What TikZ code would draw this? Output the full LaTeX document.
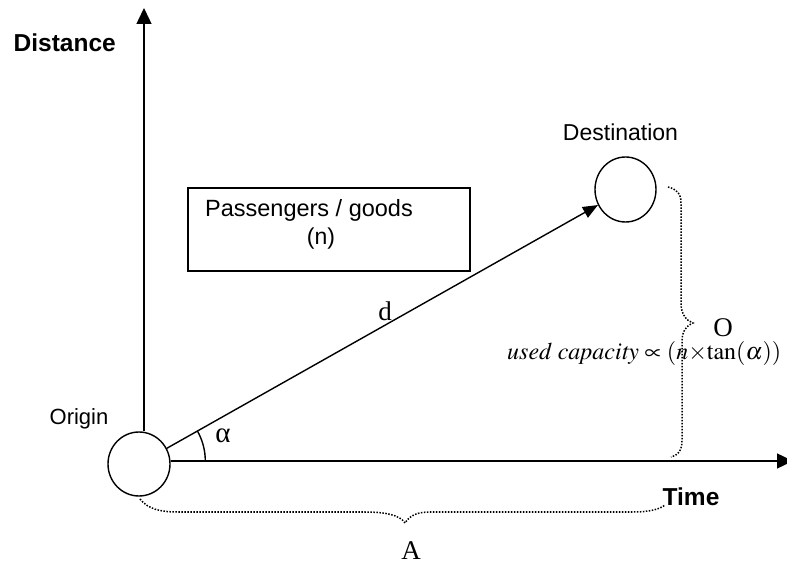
\documentclass[tikz,border=0pt]{standalone}
\usepackage{mathptmx}
\usepackage{fontspec}
\setmainfont{Liberation Serif}
\setsansfont{Liberation Sans}
\usetikzlibrary{shapes.geometric,arrows.meta}
\begin{document}
\begin{tikzpicture}[x=1pt,y=1pt,
  line width=1.4pt,
  circ/.style={ellipse,draw,inner sep=0pt,line width=1.4pt},
  lab/.style={font=\sffamily\fontsize{22}{26}\selectfont,inner sep=0pt},
  blab/.style={font=\sffamily\bfseries\fontsize{24.5}{28}\selectfont,inner sep=0pt},
  ser/.style={font=\fontsize{24}{28}\selectfont,inner sep=0pt},
  bigser/.style={font=\fontsize{27}{30}\selectfont,inner sep=0pt},
  bracestyle/.style={line width=1.5pt,dash pattern=on 1.5pt off 1.5pt},
  axis/.style={-{Triangle[length=16pt,width=15pt]}}]
\useasboundingbox (0,0) rectangle (787,565);
% nodes
\node[circ,minimum width=62pt,minimum height=64pt] (origin) at (139,101) {};
\node[circ,minimum width=61pt,minimum height=65pt] (dest) at (625.5,375.5) {};
\coordinate (ytip) at (144,557);
\coordinate (xtip) at (793,104);
\coordinate (vert) at (144.3,104);
% axes
\draw[axis] (origin.north -| ytip) -- (ytip);
\draw[axis] (origin.east |- xtip) -- (xtip);
% d arrow
\draw[-{Triangle[length=15pt,width=12pt]}] (origin) -- (dest);
% angle arc
\draw ([xshift=61pt]vert) arc[start angle=0,end angle=29.44,radius=61pt];
% box
\node[draw,line width=1.4pt,minimum width=282pt,minimum height=83pt] (box) at (329,335.5) {};
\node[lab,font=\sffamily\fontsize{23.5}{28}\selectfont,anchor=base] (pass) at (309,348) {Passengers / goods};
\node[lab,font=\sffamily\fontsize{23}{28}\selectfont,anchor=base] (nlab) at (321,320) {(n)};
% labels
\node[blab,anchor=west] (distance) at (13,522) {Distance};
\node[blab] (time) at (691,68) {Time};
\node[lab,anchor=base] (originlab) at (79,140) {Origin};
\node[lab,font=\sffamily\fontsize{23}{28}\selectfont,anchor=base] (destlab) at (620.5,424) {Destination};
\node[bigser] (dlab) at (385,254) {d};
\node[bigser,font=\fontsize{29}{32}\selectfont] (alphalab) at (223,129.5) {α};
\node[bigser,anchor=base] (olab) at (723,228) {O};
\node[bigser,anchor=base] (alab) at (411,6) {A};
\node[ser,anchor=base east] (formula) at (782,205) {$\mathit{used\ capacity}\propto(n{\times}\mathrm{tan}(\alpha))$};
% braces
\draw[bracestyle] (668,378) .. controls (676,376) and (681,372) .. (681,362) -- (681,262) .. controls (681,250) and (687,244) .. (693,242) .. controls (687,240) and (682,234) .. (682,224) -- (682,124) .. controls (682,114) and (677,109) .. (671,108);
\draw[bracestyle] (140,66) .. controls (148,56) and (160,53) .. (178,53) -- (365,53) .. controls (385,53) and (400,50) .. (405,42) .. controls (410,50) and (418,53) .. (430,53) -- (633,53) .. controls (650,53) and (660,56) .. (665,60);
\end{tikzpicture}
\end{document}
